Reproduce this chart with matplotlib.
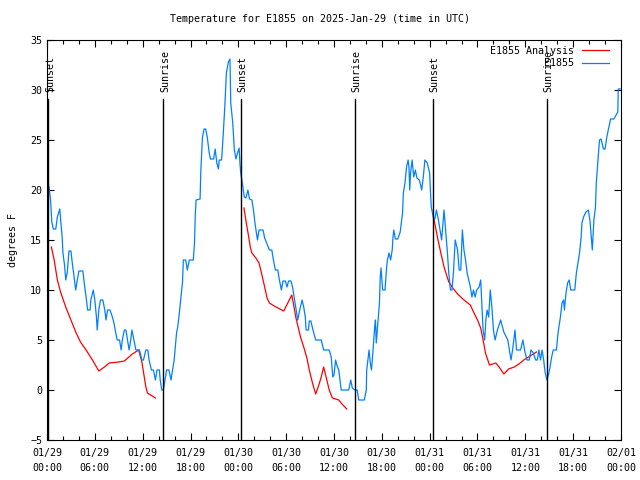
import matplotlib
matplotlib.use('Agg')
import matplotlib.pyplot as plt
import matplotlib.transforms as mtransforms
from matplotlib.ticker import MultipleLocator
import numpy as np

# hours since 2025-01-29 00:00 UTC
obs_hours = [0.0, 0.25, 0.45, 0.6, 0.8, 1.1, 1.3, 1.6, 1.75, 1.9, 2.0, 2.2, 2.35, 2.55, 2.75, 3.0,
             3.2, 3.4, 3.6, 3.8, 4.0, 4.5, 4.7, 4.9, 5.1, 5.4, 5.5, 5.8, 6.0, 6.2, 6.3, 6.5, 6.7,
             7.0, 7.25, 7.4, 7.6, 7.9, 8.2, 8.4, 8.6, 8.8, 9.1, 9.3, 9.45, 9.7, 9.9, 10.1, 10.3,
             10.5, 10.65, 10.9, 11.15, 11.6, 11.9, 12.1, 12.4, 12.65, 12.8, 13.1, 13.35, 13.6,
             13.8, 14.1, 14.2, 14.4, 14.6, 14.8, 15.0, 15.3, 15.55, 15.75, 15.95, 16.1, 16.25,
             16.4, 16.6, 16.8, 17.0, 17.1, 17.4, 17.6, 17.85, 18.35, 18.5, 18.6, 18.7, 19.2,
             19.3, 19.5, 19.7, 19.9, 20.1, 20.35, 20.5, 20.9, 21.1, 21.3, 21.5, 21.6, 21.9,
             22.1, 22.3, 22.5, 22.75, 22.95, 23.05, 23.3, 23.5, 23.7, 23.9, 24.1, 24.2, 24.3,
             24.5, 24.75, 24.95, 25.2, 25.4, 25.7, 25.9, 26.1, 26.4, 26.6, 27.1, 27.3, 27.9,
             28.2, 28.4, 28.65, 28.95, 29.15, 29.4, 29.6, 29.9, 30.1, 30.3, 30.6, 30.8, 31.0,
             31.25, 31.45, 31.7, 32.0, 32.2, 32.4, 32.5, 32.8, 32.9, 33.1, 33.3, 33.7, 34.4,
             34.7, 35.4, 35.65, 35.85, 36.0, 36.2, 36.35, 36.6, 36.9, 37.85, 38.1, 38.3, 38.6,
             38.9, 39.1, 39.8, 40.05, 40.1, 40.4, 40.55, 40.7, 40.9, 41.1, 41.2, 41.3, 41.5,
             41.7, 41.8, 41.9, 42.1, 42.4, 42.6, 42.7, 42.9, 43.1, 43.3, 43.4, 43.5, 43.7,
             44.0, 44.3, 44.6, 44.7, 44.9, 45.1, 45.3, 45.4, 45.5, 45.6, 45.8, 46.0, 46.2,
             46.4, 46.7, 46.8, 47.0, 47.2, 47.4, 47.7, 48.0, 48.1, 48.2, 48.5, 48.65, 48.85,
             49.1, 49.3, 49.5, 49.6, 49.8, 50.0, 50.2, 50.4, 50.6, 50.8, 51.0, 51.2, 51.5,
             51.7, 51.9, 52.1, 52.3, 52.5, 52.7, 52.9, 53.1, 53.3, 53.5, 53.7, 53.9, 54.2,
             54.4, 54.6, 54.7, 54.9, 55.05, 55.2, 55.4, 55.6, 55.8, 56.0, 56.2, 56.5, 56.9,
             57.3, 57.8, 58.0, 58.2, 58.4, 58.7, 58.9, 59.4, 59.7, 59.9, 60.2, 60.5, 60.7,
             61.0, 61.3, 61.5, 61.7, 61.9, 62.1, 62.3, 62.4, 62.5, 62.7, 62.9, 63.1, 63.3,
             63.5, 63.9, 64.1, 64.4, 64.6, 64.8, 64.9, 65.1, 65.3, 65.5, 65.7, 66.2, 66.4,
             66.6, 66.8, 67.0, 67.1, 67.3, 67.6, 67.9, 68.1, 68.3, 68.4, 68.6, 68.8, 68.9,
             69.1, 69.3, 69.5, 69.8, 70.0, 70.2, 70.4, 70.7, 71.1, 71.6, 71.65, 71.9]
obs_temp = [21, 20.3, 19, 16.8, 16.1, 16.1, 17.3, 18.1, 16.7, 15.3, 13.7, 12.5, 11, 11.8, 13.9, 13.9,
            12.5, 11.3, 10, 11, 11.9, 11.9, 10.5, 9.3, 8, 8, 9, 10, 9, 7.3, 6, 8, 9,
            9, 8, 7, 8, 8, 7.3, 6.7, 5.8, 5, 5, 4, 5, 6, 6, 5, 4,
            5, 6, 5, 4, 4, 3, 3, 4, 4, 3, 2, 2, 1,
            2, 2, 1, 0, 0, 1, 2, 2, 1, 2, 3, 4.3, 5.7,
            6.3, 7.7, 9.3, 10.8, 13, 13, 12, 13, 13, 14.7, 17.5, 19, 19.1,
            22, 25.3, 26.1, 26.1, 25.3, 23.7, 23.1, 23.1, 24.1, 22.7, 22.1, 23, 23,
            25.5, 28.3, 31.7, 32.8, 33.1, 28.7, 26.7, 24, 23.1, 23.7, 24.2, 22.7, 21.7,
            20.7, 19.3, 19.2, 20, 19.1, 19, 18, 16.6, 15, 16, 16, 15.2, 14,
            14, 13, 12, 12, 11, 10, 10.9, 10.9, 10.3, 10.9, 10.9, 10.3, 9.3,
            8, 7, 8, 9, 8.3, 7.3, 6, 6, 6.9, 6.9, 6.2, 5, 5,
            4, 4, 3.3, 1.3, 1.5, 3, 2.5, 2, 0, 0, 1, 0.2, 0,
            0, -1, -1, 0, 2, 4, 2.7, 2, 4, 6.3, 7, 4.7, 6.7,
            8.7, 11.3, 12.2, 10, 10, 12.3, 13, 13.7, 13, 14, 15.3, 16, 15.1,
            15.1, 15.8, 17.7, 19.7, 20.7, 22.3, 23, 22.3, 20, 21.7, 23, 21.3, 22,
            21.2, 21, 20.7, 20, 21.3, 23, 22.7, 21.7, 19.8, 18.3, 17.1, 17.1, 18,
            17, 16, 15, 16, 18, 16, 14, 11.7, 10, 10, 12, 15, 14,
            12, 12, 16, 14, 13, 11.7, 11, 10.3, 9.3, 10, 9.3, 10, 10.3,
            11, 7.7, 6, 5, 7, 8, 7.3, 10, 8.3, 6, 5, 6, 7,
            5.8, 5, 4, 3, 4, 6, 4, 4, 5, 4, 3, 3, 4,
            3.7, 3, 3, 4, 3, 4, 3, 2.3, 1.7, 1, 1.5, 2.3, 3.3,
            4, 4, 5.7, 7.3, 8.7, 9, 8, 9.7, 10.7, 11, 10, 10, 11.7,
            12.7, 13.7, 15.3, 16.7, 17.3, 17.8, 18, 17, 15, 14, 17, 18.3, 20.7,
            22.8, 25, 25.1, 24.1, 24.1, 25.2, 26, 27.1, 27.1, 27.8, 30.1, 30.1]

# analysis runs, one per night
ana1_hours = [0.55, 0.9, 1.3, 1.7, 2.35, 3.0, 3.6, 4.2, 4.9, 5.7, 6.5, 7.2, 7.8, 9.0, 9.7,
              10.7, 11.5, 11.9, 12.2, 12.4, 12.6, 13.6]
ana1_temp = [14.3, 13, 11, 9.8, 8.3, 7, 5.8, 4.8, 4, 3, 1.9, 2.3, 2.7, 2.8, 2.9,
             3.6, 4, 2.8, 1.3, 0.3, -0.3, -0.8]
ana2_hours = [24.7, 25.0, 25.3, 25.5, 25.7, 26.2, 26.6, 26.9, 27.3, 27.6, 27.9, 28.5, 29.2,
              29.7, 30.2, 30.7, 30.9, 31.2, 31.5, 31.8, 32.2, 32.6, 32.9, 33.3, 33.7, 34.1,
              34.4, 34.7, 35.1, 35.4, 35.8, 36.2, 36.6, 37.0, 37.6]
ana2_temp = [18.2, 16.7, 15.3, 14.3, 13.7, 13.2, 12.7, 11.7, 10.3, 9.2, 8.7, 8.4, 8.1,
             7.9, 8.7, 9.5, 8.7, 7.3, 6.3, 5.3, 4.3, 3.2, 2, 0.7, -0.4, 0.5,
             1.3, 2.3, 1, 0, -0.8, -0.9, -1, -1.4, -1.9]
ana3_hours = [48.5, 48.8, 49.1, 49.4, 49.8, 50.4, 50.9, 51.5, 52.3, 53.1, 53.5, 54.0, 54.4,
              54.7, 55.0, 55.5, 56.3, 56.8, 57.3, 57.9, 58.6, 59.2, 59.8, 60.6, 61.4]
ana3_temp = [17.2, 16, 14.8, 13.7, 12.3, 10.8, 10.2, 9.6, 9, 8.5, 7.8, 7, 6.2,
             5, 3.7, 2.5, 2.7, 2.2, 1.6, 2.1, 2.3, 2.6, 3, 3.4, 3.8]

events = ['Sunset', 'Sunrise', 'Sunset', 'Sunrise', 'Sunset', 'Sunrise']
event_hours = [0.15, 14.6, 24.3, 38.6, 48.4, 62.7]

tick_hours = list(range(0, 73, 6))
tick_labels = ['01/29\n00:00', '01/29\n06:00', '01/29\n12:00', '01/29\n18:00',
               '01/30\n00:00', '01/30\n06:00', '01/30\n12:00', '01/30\n18:00',
               '01/31\n00:00', '01/31\n06:00', '01/31\n12:00', '01/31\n18:00',
               '02/01\n00:00']

plt.rcParams['font.family'] = 'DejaVu Sans Mono'
plt.rcParams['font.size'] = 7.2

fig = plt.figure(figsize=(6.4, 4.8), dpi=100)
ax = fig.add_axes([47 / 640, 40 / 480, 574 / 640, 400 / 480])

# red = analysis, blue = observations
lw = 0.9
ax.plot(ana1_hours, ana1_temp, color='#ff0000', lw=lw, label='E1855 Analysis')
ax.plot(ana2_hours, ana2_temp, color='#ff0000', lw=lw)
ax.plot(ana3_hours, ana3_temp, color='#ff0000', lw=lw)
ax.plot(obs_hours, obs_temp, color='#0080ff', lw=lw, label='E1855')

# sunrise / sunset markers, label sits a touch right of the line
shift = mtransforms.ScaledTranslation(2 / 100, 0, fig.dpi_scale_trans)
for name, h in zip(events, event_hours):
    ax.axvline(h, ymin=0, ymax=0.8525, color='black', lw=1)
    ax.text(h, 0.87, name, transform=ax.get_xaxis_transform() + shift, rotation=90,
            ha='center', va='bottom', zorder=5)

ax.set_xlim(0, 72)
ax.set_ylim(-5, 35)
ax.set_xticks(tick_hours)
ax.set_xticklabels(tick_labels, linespacing=1.6)
ax.xaxis.set_minor_locator(MultipleLocator(2))
ax.yaxis.set_major_locator(MultipleLocator(5))
ax.tick_params(which='both', direction='in', top=True, right=True)
ax.tick_params(which='major', length=5, width=0.8)
ax.tick_params(axis='x', which='major', pad=6)
ax.tick_params(which='minor', length=3, width=0.8)
for s in ax.spines.values():
    s.set_linewidth(0.8)

ax.set_ylabel('degrees F', labelpad=9)
fig.text(0.5, 1 - 19 / 480, 'Temperature for E1855 on 2025-Jan-29 (time in UTC)',
         ha='center', va='center')

ax.legend(loc='upper right', bbox_to_anchor=(1 - 6 / 574, 1), frameon=False,
          markerfirst=False, handlelength=2.7, borderaxespad=0.2, labelspacing=0.25)

plt.savefig('out.png', dpi=100)
